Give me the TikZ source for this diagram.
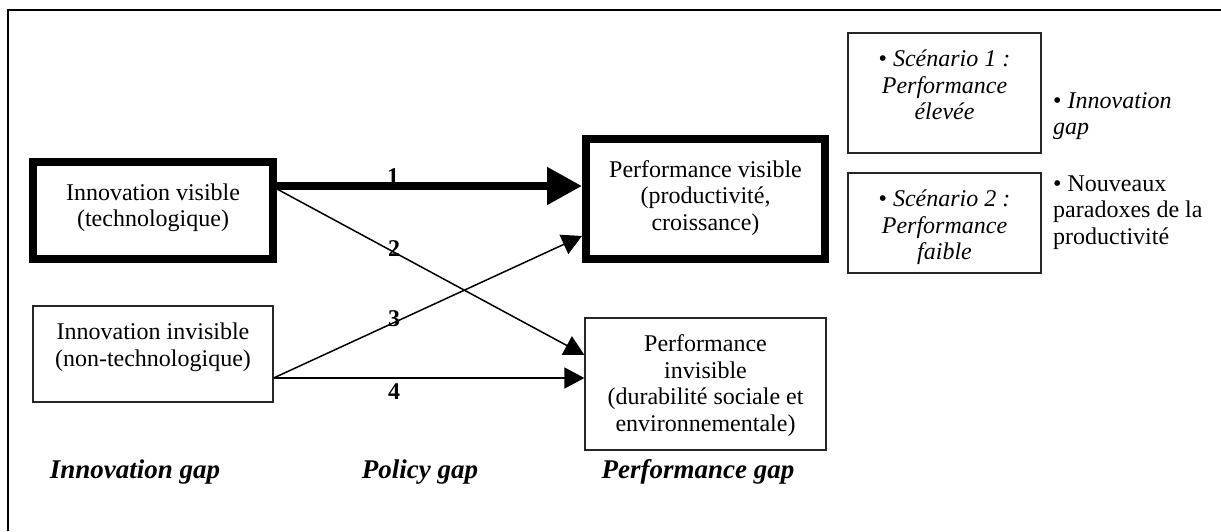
\documentclass[tikz,border=0pt]{standalone}
\usepackage{fontspec}
\setmainfont{Liberation Serif}
\usetikzlibrary{arrows.meta}
\newcommand{\fstrut}{\rule{0pt}{18pt}}
\begin{document}
\begin{tikzpicture}[x=1pt,y=-1pt,
  thickbox/.style={draw, line width=8pt, inner sep=0pt},
  thinbox/.style={draw=black!85, line width=1.2pt, inner sep=0pt},
  boxtext/.style={inner sep=0pt, align=center, font=\fontsize{24}{26.5}\selectfont, anchor=north},
  sidetext/.style={inner sep=0pt, align=left, font=\fontsize{24}{26.5}\selectfont, anchor=north west},
  gaplabel/.style={inner sep=0pt, font=\fontsize{27}{30}\selectfont\bfseries\itshape, anchor=base},
  numlabel/.style={inner sep=0pt, font=\fontsize{24}{26.5}\selectfont\bfseries},
  bigarrow/.style={line width=8pt, -{Triangle[length=35pt,width=36pt]}},
  thinarrow/.style={line width=1.5pt, -{Triangle[length=20pt,width=21pt]}},
  frameline/.style={line width=2.5pt}
]
\useasboundingbox (0,0) rectangle (1221,531);
% frame
\draw[frameline] (8,531) -- (8,10) -- (1221,10);

% boxes
\node[thickbox, minimum width=240pt, minimum height=97pt] (ivbox) at (153,210.5) {};
\node[thinbox, minimum width=240pt, minimum height=96pt] (iibox) at (153,354) {};
\node[thickbox, minimum width=239pt, minimum height=120pt] (pvbox) at (705.5,199) {};
\node[thinbox, minimum width=241pt, minimum height=132pt] (pibox) at (705.5,384) {};
\node[thinbox, minimum width=193pt, minimum height=120pt] (s1box) at (944.5,93) {};
\node[thinbox, minimum width=193pt, minimum height=100pt] (s2box) at (944.5,223) {};

% box texts
\node[boxtext] (ivt) at ([yshift=-24pt]ivbox.north) {\fstrut Innovation visible\\(technologique)};
\node[boxtext] (iit) at ([yshift=-16pt]iibox.north) {\fstrut Innovation invisible\\(non-technologique)};
\node[boxtext] (pvt) at ([yshift=-24pt]pvbox.north) {\fstrut Performance visible\\(productivité,\\croissance)};
\node[boxtext] (pit) at ([yshift=-16pt]pibox.north) {\fstrut Performance\\invisible\\(durabilité sociale et\\environnementale)};
\node[boxtext] (s1t) at ([yshift=-16pt]s1box.north) {\fstrut • \textit{Scénario 1 :}\\\textit{Performance}\\\textit{élevée}};
\node[boxtext] (s2t) at ([yshift=-16pt]s2box.north) {\fstrut • \textit{Scénario 2 :}\\\textit{Performance}\\\textit{faible}};

% side texts
\node[sidetext] (side1) at (1053,90) {\fstrut • \textit{Innovation}\\\textit{gap}};
\node[sidetext] (side2) at (1053,173) {\fstrut • Nouveaux\\paradoxes de la\\productivité};

% connectors
\coordinate (a1s) at ([yshift=24.5pt]ivbox.east);
\coordinate (a1e) at ([yshift=13pt]pvbox.west);
\coordinate (a2s) at ([yshift=21.5pt]ivbox.east);
\coordinate (a2e) at ([yshift=29pt]pibox.west);
\coordinate (a3s) at ([yshift=-24pt]iibox.east);
\coordinate (a3e) at ([yshift=-37pt]pvbox.west);
\coordinate (a4e) at ([yshift=6pt]pibox.west);

\draw[bigarrow] (a1s) -- (a1e);
\draw[thinarrow] (a2s) -- (a2e);
\draw[thinarrow] (a3s) -- (a3e);
\draw[thinarrow] (a3s) -- (a4e);

% numbers
\node[numlabel] (n1) at (393,177) {1};
\node[numlabel] (n2) at (394,249) {2};
\node[numlabel] (n3) at (394,319) {3};
\node[numlabel] (n4) at (394,392) {4};

% gap labels
\node[gaplabel] (g1) at (135,478) {Innovation gap};
\node[gaplabel] (g2) at (420,478) {Policy gap};
\node[gaplabel] (g3) at (698,478) {Performance gap};
\end{tikzpicture}
\end{document}
